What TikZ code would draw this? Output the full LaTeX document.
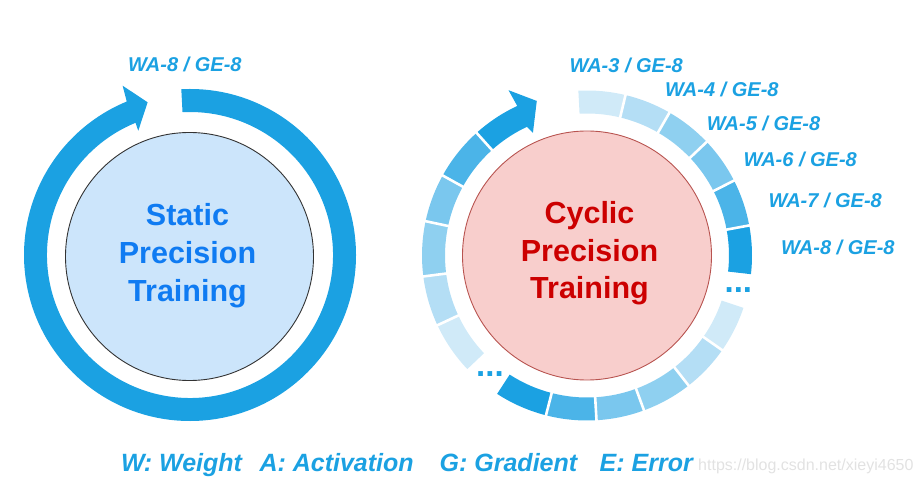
\documentclass[tikz,border=0pt]{standalone}
\usepackage{fontspec}
\setmainfont{Liberation Sans}
\definecolor{ringblue}{HTML}{1BA1E2}
\definecolor{cA}{HTML}{D0EAF8}
\definecolor{cB}{HTML}{B4DEF5}
\definecolor{cC}{HTML}{8FD0F0}
\definecolor{cD}{HTML}{7AC7EE}
\definecolor{cE}{HTML}{4BB4E8}
\definecolor{cF}{HTML}{1BA1E2}
\definecolor{staticfill}{HTML}{CCE5FB}
\definecolor{staticline}{HTML}{333333}
\definecolor{statictext}{HTML}{0F7BF2}
\definecolor{cyclicfill}{HTML}{F8CECC}
\definecolor{cyclicline}{HTML}{B85450}
\definecolor{cyclictext}{HTML}{CC0000}
\definecolor{wmgray}{HTML}{E2E2E2}
\newcommand{\segOut}{165}
\newcommand{\segIn}{142}
\newcommand{\ringseg}[3]{\fill[#3] (#1:\segOut) arc[start angle=#1, end angle=#2, radius=\segOut] -- (#2:\segIn) arc[start angle=#2, end angle=#1, radius=\segIn] -- cycle;}
\newcommand{\ringgap}[1]{\draw[gapline] (#1:138) -- (#1:169);}
\tikzset{
  gapline/.style={white, line width=2.6pt},
  lbl/.style={font=\bfseries\itshape\fontsize{20}{24}\selectfont, text=ringblue, inner sep=0pt, anchor=base west},
  bigtxt/.style={font=\bfseries\fontsize{30.5}{36}\selectfont, inner sep=0pt, anchor=base},
  dotstxt/.style={font=\bfseries\fontsize{33}{36}\selectfont, text=ringblue, inner sep=0pt, anchor=base west},
  legend/.style={font=\bfseries\itshape\fontsize{25}{30}\selectfont, text=ringblue, inner sep=0pt, anchor=base west},
  wmark/.style={font=\fontsize{16}{19}\selectfont, text=wmgray, inner sep=0pt, anchor=base west}
}
\begin{document}
\begin{tikzpicture}[x=1pt,y=1pt]
\useasboundingbox (0,0) rectangle (921,485);

% ---------------- Static precision (left) ----------------
\begin{scope}[shift={(190,230)}]
  \fill[ringblue] (93:166) arc[start angle=93, end angle=-247.6, radius=166]
     -- (111.7:182.2) -- (105.5:158.5) -- (112.6:134.6) -- (112.4:143)
     arc[start angle=-247.6, end angle=93, radius=143] -- cycle;
  \node[circle, draw=staticline, line width=0.9pt, fill=staticfill, minimum size=248pt, inner sep=0pt] (staticc) at (-0.5,-1.5) {};
\end{scope}
\node[bigtxt, text=statictext] (st1) at (187.5,259.5) {Static};
\node[bigtxt, text=statictext] (st2) at (187.5,221.5) {Precision};
\node[bigtxt, text=statictext] (st3) at (187.5,183.5) {Training};
\node[lbl] (lwa8) at (128,413) {WA-8 / GE-8};

% ---------------- Cyclic precision (right) ----------------
\begin{scope}[shift={(587,229.5)}]
  % upper right group
  \ringseg{93}{76.5}{cA}
  \ringseg{76.5}{60}{cB}
  \ringseg{60}{43.5}{cC}
  \ringseg{43.5}{27}{cD}
  \ringseg{27}{10.5}{cE}
  \ringseg{10.5}{-6.5}{cF}
  \ringgap{76.5}\ringgap{60}\ringgap{43.5}\ringgap{27}\ringgap{10.5}
  % lower group
  \ringseg{-18.5}{-35}{cA}
  \ringseg{-35}{-52}{cB}
  \ringseg{-52}{-69.8}{cC}
  \ringseg{-69.8}{-86.7}{cD}
  \ringseg{-86.7}{-104.4}{cE}
  \ringseg{-104.4}{-123}{cF}
  \ringgap{-35}\ringgap{-52}\ringgap{-69.8}\ringgap{-86.7}\ringgap{-104.4}
  % left group with arrow
  \ringseg{223.5}{205}{cA}
  \ringseg{205}{187.3}{cB}
  \ringseg{187.3}{168}{cC}
  \ringseg{168}{151}{cD}
  \ringseg{151}{132}{cE}
  \fill[cF] (132:165) arc[start angle=132, end angle=115, radius=165]
     -- (115.4:183) -- (108:162.5) -- (113.8:134) -- (115:142)
     arc[start angle=115, end angle=132, radius=142] -- cycle;
  \ringgap{205}\ringgap{187.3}\ringgap{168}\ringgap{151}\ringgap{132}
  \node[circle, draw=cyclicline, line width=0.9pt, fill=cyclicfill, minimum size=249pt, inner sep=0pt] (cyclicc) at (0,0) {};
\end{scope}
\node[bigtxt, text=cyclictext] (cy1) at (589.5,261.5) {Cyclic};
\node[bigtxt, text=cyclictext] (cy2) at (589.5,223.8) {Precision};
\node[bigtxt, text=cyclictext] (cy3) at (589.5,186.5) {Training};

\node[lbl] (wa3) at (569.3,412.5) {WA-3 / GE-8};
\node[lbl] (wa4) at (665,388.5) {WA-4 / GE-8};
\node[lbl] (wa5) at (706.7,354.2) {WA-5 / GE-8};
\node[lbl] (wa6) at (743.3,318) {WA-6 / GE-8};
\node[lbl] (wa7) at (768.3,277) {WA-7 / GE-8};
\node[lbl] (wa8) at (781,230.3) {WA-8 / GE-8};

\node[dotstxt] (dotsr) at (724.4,192.8) {...};
\node[dotstxt] (dotsb) at (476,108.3) {...};

% ---------------- legend ----------------
\node[legend] (leg) at (121,13.3) {W: Weight\hspace{17.5pt}A: Activation\hspace{26pt}G: Gradient\hspace{22.5pt}E: Error};
\node[wmark] (wm) at (698,15) {https://blog.csdn.net/xieyi4650};
\end{tikzpicture}
\end{document}
